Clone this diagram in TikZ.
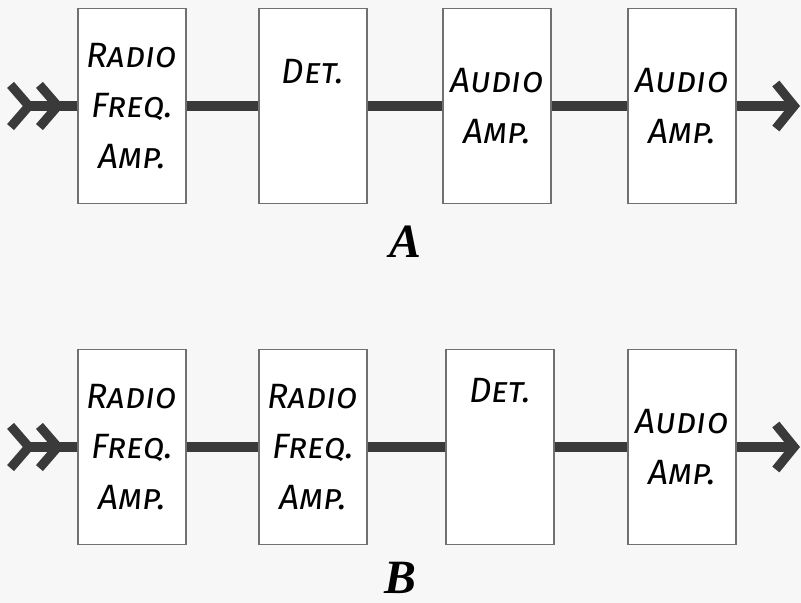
\documentclass[tikz,border=0pt]{standalone}
\usepackage{fontspec}
\setmainfont{Fira Sans}
\newfontfamily\letterfont{Liberation Serif}
\usetikzlibrary{arrows.meta}
\definecolor{BoxLine}{HTML}{707070}
\definecolor{WireGray}{HTML}{3A3A3A}
\definecolor{PaperBg}{HTML}{F7F7F7}

\tikzset{
  stage/.style={draw=BoxLine,line width=0.9pt,fill=white,minimum width=2.7cm,minimum height=4.87cm,align=center,
    font=\fontsize{25}{36}\selectfont\itshape\scshape},
  wire/.style={WireGray,line width=6.5pt},
  feed/.style={wire,{Straight Barb[reversed,length=13pt,width=30pt]Straight Barb[reversed,length=13pt,width=30pt]}-},
  outlet/.style={wire,-{Straight Barb[length=13pt,width=32pt]}},
  rowlabel/.style={font=\letterfont\fontsize{34}{36}\selectfont\bfseries\itshape},
}

\begin{document}
\begin{tikzpicture}[x=0.025cm,y=-0.025cm]
\fill[PaperBg] (0,0) rectangle (801,603);
\useasboundingbox (0,0) rectangle (801,603);

% A
\node[stage] (rfA) at (132,106) {Radio\\Freq.\\Amp.};
\node[stage,label={[anchor=north,yshift=-1.15cm,font=\fontsize{25}{36}\selectfont\itshape\scshape]north:Det.}] (detA) at (313,106) {};
\node[stage] (afA1) at (497,106) {Audio\\Amp.};
\node[stage] (afA2) at (682,106) {Audio\\Amp.};
\coordinate (inA) at (6,106);
\coordinate (outA) at (800,106);
\draw[feed] (inA) -- (rfA);
\draw[wire] (rfA) -- (detA);
\draw[wire] (detA) -- (afA1);
\draw[wire] (afA1) -- (afA2);
\draw[outlet] (afA2) -- (outA);
\node[rowlabel] (labA) at (405,242) {A};

% B
\node[stage] (rfB1) at (132,447) {Radio\\Freq.\\Amp.};
\node[stage] (rfB2) at (313,447) {Radio\\Freq.\\Amp.};
\node[stage,label={[anchor=north,yshift=-0.6cm,font=\fontsize{25}{36}\selectfont\itshape\scshape]north:Det.}] (detB) at (500,447) {};
\node[stage] (afB) at (682,447) {Audio\\Amp.};
\coordinate (inB) at (6,447);
\coordinate (outB) at (800,447);
\draw[feed] (inB) -- (rfB1);
\draw[wire] (rfB1) -- (rfB2);
\draw[wire] (rfB2) -- (detB);
\draw[wire] (detB) -- (afB);
\draw[outlet] (afB) -- (outB);
\node[rowlabel] (labB) at (400,578) {B};
\end{tikzpicture}
\end{document}
